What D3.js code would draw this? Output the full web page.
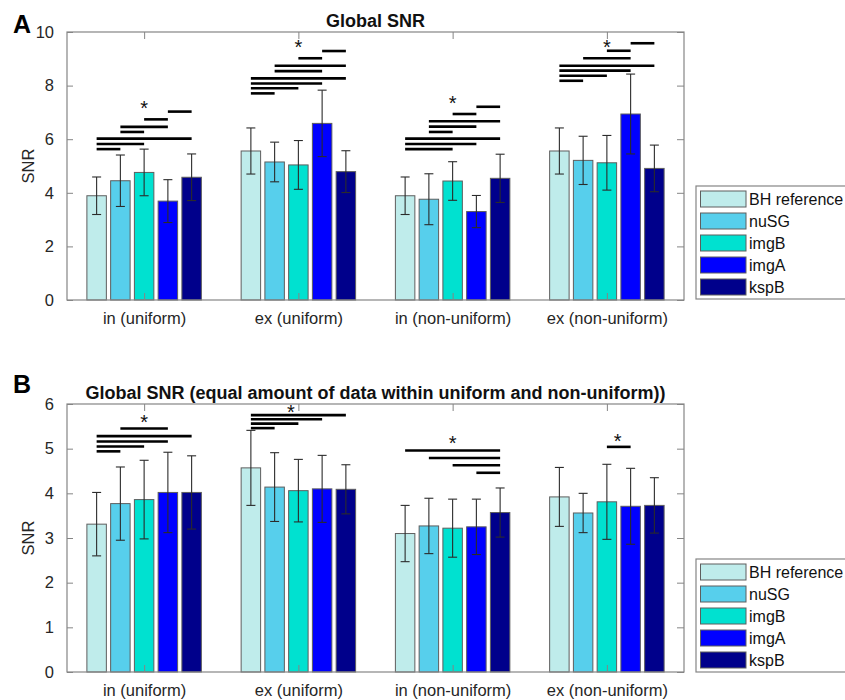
<!DOCTYPE html>
<html>
<head>
<meta charset="utf-8">
<script src="https://cdn.jsdelivr.net/npm/d3@7/dist/d3.min.js"></script>
<style>
  html, body { margin: 0; padding: 0; background: #fff; }
  svg { display: block; font-family: "Liberation Sans", Arial, Helvetica, sans-serif; }
</style>
</head>
<body>
<svg id="chart" width="845" height="700"></svg>
<script>
// ---------------- DATA ----------------
const groups = ["in (uniform)", "ex (uniform)", "in (non-uniform)", "ex (non-uniform)"];
const series = ["BH reference", "nuSG", "imgB", "imgA", "kspB"];
const colors = ["#bfeceb", "#57cfec", "#00e1d0", "#0000ff", "#00008b"];

// Panel A: Global SNR (mean per group, one array per series)
const meanA_BH   = [3.89, 5.56, 3.89, 5.56];
const meanA_nuSG = [4.45, 5.15, 3.76, 5.21];
const meanA_imgB = [4.76, 5.04, 4.44, 5.12];
const meanA_imgA = [3.69, 6.59, 3.30, 6.94];
const meanA_kspB = [4.58, 4.79, 4.54, 4.91];
const errA_BH    = [0.70, 0.86, 0.70, 0.86];
const errA_nuSG  = [0.96, 0.74, 0.95, 0.90];
const errA_imgB  = [0.87, 0.91, 0.72, 1.02];
const errA_imgA  = [0.80, 1.24, 0.60, 1.49];
const errA_kspB  = [0.87, 0.78, 0.90, 0.87];

// Panel B: equal amount of data
const meanB_BH   = [3.31, 4.57, 3.10, 3.92];
const meanB_nuSG = [3.77, 4.14, 3.27, 3.56];
const meanB_imgB = [3.86, 4.06, 3.22, 3.81];
const meanB_imgA = [4.02, 4.10, 3.25, 3.71];
const meanB_kspB = [4.02, 4.09, 3.57, 3.73];
const errB_BH    = [0.71, 0.84, 0.63, 0.66];
const errB_nuSG  = [0.82, 0.77, 0.62, 0.44];
const errB_imgB  = [0.88, 0.70, 0.65, 0.84];
const errB_imgA  = [0.90, 0.75, 0.62, 0.85];
const errB_kspB  = [0.82, 0.55, 0.55, 0.62];

// significance bars: [group, seriesFrom, seriesTo, SNR level]
const sigA = [
  [0,0,1,5.63],[0,0,2,5.82],[0,0,4,6.02],[0,1,2,6.27],[0,1,3,6.46],[0,2,3,6.74],[0,3,4,7.03],
  [1,0,1,7.71],[1,0,2,7.90],[1,0,3,8.08],[1,0,4,8.27],[1,1,3,8.54],[1,1,4,8.74],[1,2,3,9.02],[1,3,4,9.29],
  [2,0,2,5.63],[2,0,3,5.82],[2,0,4,6.02],[2,1,2,6.27],[2,1,3,6.47],[2,1,4,6.67],[2,2,3,6.94],[2,3,4,7.21],
  [3,0,1,8.18],[3,0,2,8.37],[3,0,3,8.56],[3,0,4,8.74],[3,1,3,9.02],[3,2,3,9.30],[3,3,4,9.58]
];
// stars: [group, series position, SNR level]
const starsA = [[0,2,7.31],[1,2,9.58],[2,2,7.50],[3,2,9.58]];

const sigB = [
  [0,0,1,4.94],[0,0,2,5.05],[0,0,3,5.16],[0,0,4,5.28],[0,1,3,5.45],
  [1,0,1,5.46],[1,0,2,5.56],[1,0,3,5.66],[1,0,4,5.75],
  [2,0,4,4.96],[2,1,4,4.79],[2,2,4,4.63],[2,3,4,4.46],
  [3,2,3,5.04]
];
const starsB = [[0,2,5.68],[1,1.69,5.90],[2,2,5.22],[3,2.45,5.27]];

const ticksA = [0, 2, 4, 6, 8, 10];
const ticksB = [0, 1, 2, 3, 4, 5, 6];

// ---------------- DRAW ----------------
const svg = d3.select("#chart");
const axisColor = "#858585";
const textColor = "#262626";

function panel(cfg) {
  const {top, bottom, left, right, ymax, ticks, means, errs, sig, stars, title, letter} = cfg;
  const g = svg.append("g");
  const x = d3.scaleLinear().domain([0.5, 4.5]).range([left, right]);
  const y = d3.scaleLinear().domain([0, ymax]).range([bottom, top]);
  const step = 23.75;
  const xs = d3.scaleBand().domain(d3.range(series.length))
    .range([-step * series.length / 2, step * series.length / 2])
    .paddingInner(0.18).paddingOuter(0.09);
  const bw = xs.bandwidth();
  const cx = (gi, si) => x(gi + 1) + xs(0) + si * xs.step() + bw / 2;

  // bars
  series.forEach((s, si) => {
    g.selectAll(null).data(means[si]).enter().append("rect")
      .attr("x", (d, gi) => x(gi + 1) + xs(si))
      .attr("y", d => y(d))
      .attr("width", bw)
      .attr("height", d => y(0) - y(d))
      .attr("fill", colors[si])
      .attr("stroke", "#5e5e5e")
      .attr("stroke-width", 1);
  });
  // error bars
  series.forEach((s, si) => {
    means[si].forEach((m, gi) => {
      const e = errs[si][gi];
      const c = cx(gi, si);
      const eg = g.append("g").attr("stroke", "#2b2b2b").attr("stroke-width", 1.1);
      eg.append("line").attr("x1", c).attr("x2", c).attr("y1", y(m - e)).attr("y2", y(m + e));
      eg.append("line").attr("x1", c - 4.5).attr("x2", c + 4.5).attr("y1", y(m - e)).attr("y2", y(m - e));
      eg.append("line").attr("x1", c - 4.5).attr("x2", c + 4.5).attr("y1", y(m + e)).attr("y2", y(m + e));
    });
  });

  // axes box
  g.append("rect").attr("x", left).attr("y", top).attr("width", right - left).attr("height", bottom - top)
    .attr("fill", "none").attr("stroke", axisColor).attr("stroke-width", 1.2);

  // y axis (ticks inside, both sides)
  const yAxisL = d3.axisLeft(y).tickValues(ticks).tickSize(-6).tickPadding(13).tickFormat(d3.format("d"));
  const ya = g.append("g").attr("transform", `translate(${left},0)`).call(yAxisL);
  ya.select(".domain").remove();
  ya.selectAll("line").attr("stroke", axisColor);
  ya.selectAll("text").attr("font-size", 16.5).attr("fill", textColor);
  const yAxisR = d3.axisRight(y).tickValues(ticks).tickSize(-7).tickFormat("");
  const yr = g.append("g").attr("transform", `translate(${right},0)`).call(yAxisR);
  yr.select(".domain").remove();
  yr.selectAll("line").attr("stroke", axisColor);

  // x axis
  const xAxisB = d3.axisBottom(x).tickValues([1, 2, 3, 4]).tickSize(-7).tickPadding(12)
    .tickFormat((d) => groups[d - 1]);
  const xa = g.append("g").attr("transform", `translate(0,${bottom})`).call(xAxisB);
  xa.select(".domain").remove();
  xa.selectAll("line").attr("stroke", axisColor);
  xa.selectAll("text").attr("font-size", 16.5).attr("fill", textColor);
  const xAxisT = d3.axisTop(x).tickValues([1, 2, 3, 4]).tickSize(-7).tickFormat("");
  const xt = g.append("g").attr("transform", `translate(0,${top})`).call(xAxisT);
  xt.select(".domain").remove();
  xt.selectAll("line").attr("stroke", axisColor);

  // significance lines
  g.selectAll(null).data(sig).enter().append("line")
    .attr("x1", d => cx(d[0], d[1])).attr("x2", d => cx(d[0], d[2]))
    .attr("y1", d => y(d[3])).attr("y2", d => y(d[3]))
    .attr("stroke", "#000").attr("stroke-width", 2.6);
  g.selectAll(null).data(stars).enter().append("text")
    .attr("x", d => cx(d[0], d[1])).attr("y", d => y(d[2]) + 11)
    .attr("text-anchor", "middle").attr("font-size", 20).attr("fill", "#111").text("*");

  // y label
  g.append("text").attr("transform", `translate(${34},${(top + bottom) / 2}) rotate(-90)`)
    .attr("text-anchor", "middle").attr("font-size", 16.5).attr("fill", textColor).text("SNR");
  // title
  g.append("text").attr("x", (left + right) / 2).attr("y", cfg.titleY)
    .attr("text-anchor", "middle").attr("font-size", 18).attr("font-weight", "bold").attr("fill", "#111").text(title);
  // panel letter
  g.append("text").attr("x", 13).attr("y", cfg.letterY).attr("font-size", 25)
    .attr("font-weight", "bold").attr("fill", "#000").text(letter);

  // legend
  const lg = g.append("g");
  lg.append("rect").attr("x", 696).attr("y", cfg.legendTop).attr("width", 170).attr("height", 113)
    .attr("fill", "#fff").attr("stroke", axisColor).attr("stroke-width", 1.2);
  series.forEach((s, si) => {
    const yy = cfg.legendTop + 5 + si * 22;
    lg.append("rect").attr("x", 700.5).attr("y", yy).attr("width", 45.5).attr("height", 16)
      .attr("fill", colors[si]).attr("stroke", "#5e5e5e").attr("stroke-width", 1);
    lg.append("text").attr("x", 749).attr("y", yy + 14).attr("font-size", 16)
      .attr("fill", "#111").text(s);
  });
}

panel({
  top: 32, bottom: 300, left: 67, right: 684, ymax: 10, ticks: ticksA,
  means: [meanA_BH, meanA_nuSG, meanA_imgB, meanA_imgA, meanA_kspB],
  errs: [errA_BH, errA_nuSG, errA_imgB, errA_imgA, errA_kspB],
  sig: sigA, stars: starsA, title: "Global SNR", titleY: 27, letter: "A", letterY: 33,
  legendTop: 186
});
panel({
  top: 404, bottom: 672, left: 67, right: 684, ymax: 6, ticks: ticksB,
  means: [meanB_BH, meanB_nuSG, meanB_imgB, meanB_imgA, meanB_kspB],
  errs: [errB_BH, errB_nuSG, errB_imgB, errB_imgA, errB_kspB],
  sig: sigB, stars: starsB,
  title: "Global SNR (equal amount of data within uniform and non-uniform))", titleY: 399,
  letter: "B", letterY: 393, legendTop: 559
});
</script>
</body>
</html>
